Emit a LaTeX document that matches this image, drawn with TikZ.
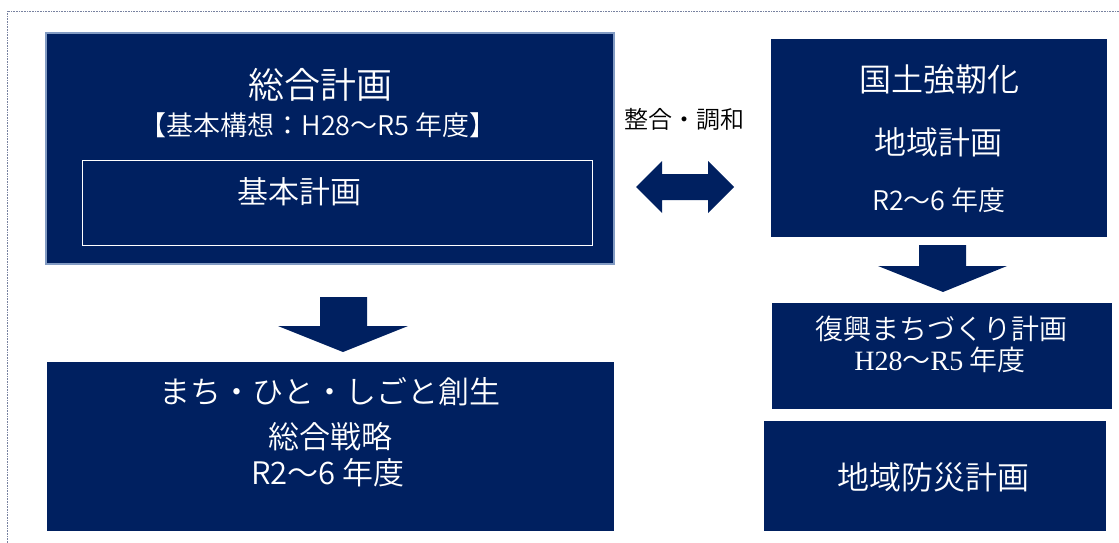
\documentclass[tikz,border=0pt]{standalone}
\usepackage{fontspec}
\setmainfont{Noto Sans CJK JP}[UprightFont=* DemiLight]
\newfontfamily\latinserif{Liberation Serif}
\definecolor{navy}{RGB}{0,32,96}
\definecolor{edgeblue}{RGB}{130,155,195}
\definecolor{dotgray}{RGB}{120,130,160}
\begin{document}
\begin{tikzpicture}[x=1pt,y=-1pt,
  box/.style={fill=navy, draw=none, anchor=north west, inner sep=0pt, outer sep=0pt},
  lbl/.style={text=white, inner sep=0pt, anchor=center},
  blockarrow/.style={fill=navy, draw=none},
  f36/.style={font=\fontsize{36}{40}\selectfont},
  f32/.style={font=\fontsize{32}{36}\selectfont},
  f31/.style={font=\fontsize{31}{35}\selectfont},
  f28/.style={font=\fontsize{28}{32}\selectfont},
  f27/.style={font=\fontsize{27}{31}\selectfont},
  f24/.style={font=\fontsize{24}{28}\selectfont}]
\useasboundingbox (0,0) rectangle (1119,543);
\draw[densely dotted, dotgray, line width=0.6pt] (7,543) -- (7,11) -- (1119,11);

% main box
\node[box, draw=edgeblue, line width=1.8pt, minimum width=568pt, minimum height=231pt] (main) at (46,33) {};
\draw[edgeblue, line width=1pt] (119,162) -- (557,162);
\node[box, draw=white, line width=1pt, minimum width=510pt, minimum height=85pt] (kihon) at (82,160) {};
\node[lbl, f36] (t1) at (320,85) {総合計画};
\node[lbl, f27] (t2) at (318,125) {【基本構想：H28～R5 年度】};
\node[lbl, f31] (t3) at (299,192) {基本計画};

% left bottom box
\node[box, minimum width=567pt, minimum height=169pt] (sousei) at (47,362) {};
\node[lbl, f31] (s1) at (330,392) {まち・ひと・しごと創生};
\node[lbl, f31] (s2) at (330,437) {総合戦略};
\node[lbl, f31] (s3) at (328,473) {R2～6 年度};

% right boxes
\node[box, minimum width=336pt, minimum height=198pt] (kokudo) at (771,39) {};
\node[lbl, f32] (k1) at (939,79) {国土強靭化};
\node[lbl, f32] (k2) at (938,142) {地域計画};
\node[lbl, f27] (k3) at (939,200) {R2～6 年度};

\node[box, minimum width=340pt, minimum height=106pt] (fukko) at (772,303) {};
\node[lbl, f28] (r1) at (941,329) {復興まちづくり計画};
\node[lbl, f28] (r2) at (940,360) {{\latinserif H28}～{\latinserif R5} 年度};

\node[box, minimum width=342pt, minimum height=110pt] (bousai) at (764,421) {};
\node[lbl, f32] (b1) at (933,477) {地域防災計画};

% label
\node[inner sep=0pt, f24, text=black] (seigo) at (684,119) {整合・調和};

% double arrow
\fill[blockarrow] (636,187) -- (662,161) -- (662,174) -- (708,174) -- (708,161) -- (734,187)
  -- (708,213) -- (708,200) -- (662,200) -- (662,213) -- cycle;
% down arrows
\fill[blockarrow] (320,297) -- (367,297) -- (367,326) -- (408,326) -- (343,352) -- (278,326) -- (320,326) -- cycle;
\fill[blockarrow] (919,245) -- (966,245) -- (966,266) -- (1007,266) -- (943,292) -- (878,266) -- (919,266) -- cycle;
\end{tikzpicture}
\end{document}
